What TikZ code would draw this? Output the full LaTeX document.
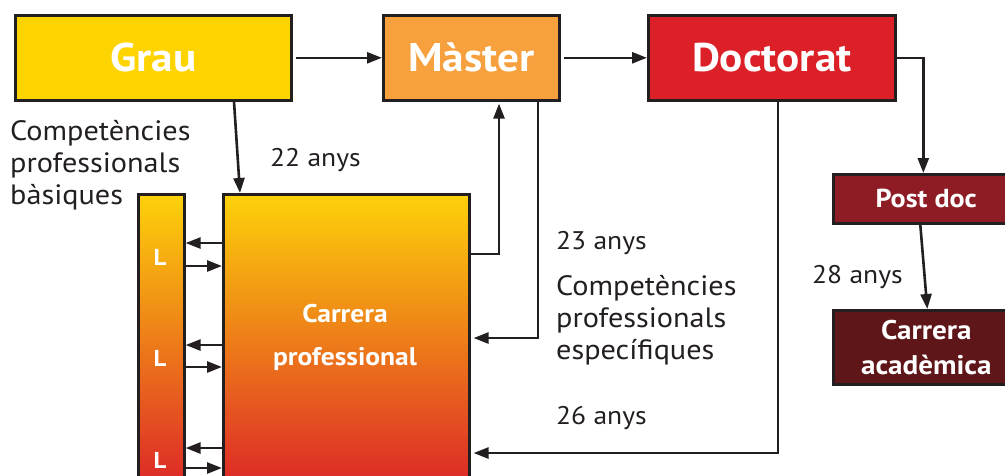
\documentclass[tikz,border=0pt]{standalone}
\usepackage{fontspec}
\setmainfont[FakeStretch=1.08]{PT Sans}
\usetikzlibrary{arrows.meta,calc}
\definecolor{dark}{HTML}{231F20}
\definecolor{cgrau}{HTML}{FDD300}
\definecolor{cmaster}{HTML}{F6A03E}
\definecolor{cdoct}{HTML}{DC2028}
\definecolor{cpost}{HTML}{8E1C24}
\definecolor{cacad}{HTML}{5E1618}
\definecolor{gtop}{HTML}{FDD20A}
\definecolor{gbot}{HTML}{DC2329}
\begin{document}
\begin{tikzpicture}[x=1pt,y=-1pt,
  box/.style={draw=dark,line width=2.6pt,inner sep=0pt,anchor=north west,text=white},
  big/.style={font=\bfseries\fontsize{40}{44}\selectfont},
  small/.style={font=\bfseries\fontsize{26}{30}\selectfont,align=center},
  grad/.style={box,top color=gtop,bottom color=gbot},
  arr/.style={draw=dark,line width=2.6pt,-{Triangle[length=15pt,width=11pt]}},
  txt/.style={text=dark,font=\fontsize{28}{32}\selectfont,align=left,inner sep=0pt,anchor=west},
  age/.style={txt,font=\fontsize{25.5}{32}\selectfont},
  lab/.style={text=white,font=\bfseries\fontsize{23}{26}\selectfont,inner sep=0pt}]
\useasboundingbox (0,0) rectangle (1005,475);
\clip (0,0) rectangle (1005,475);
% top row
\node[box,fill=cgrau,big,minimum width=276pt,minimum height=85pt] (grau) at (14,14) {Grau};
\node[box,fill=cmaster,big,minimum width=176pt,minimum height=85pt] (master) at (382,14) {Màster};
\node[box,fill=cdoct,big,minimum width=247pt,minimum height=85pt] (doct) at (647,14) {Doctorat};
% right column
\node[box,fill=cpost,small,minimum width=186pt,minimum height=49pt] (postdoc) at (832,173) {Post doc};
\node[box,fill=cacad,small,minimum width=186pt,minimum height=74pt,font=\bfseries\fontsize{27}{35}\selectfont] (acad) at (832,309) {Carrera\\acadèmica};
% career boxes
\node[grad,minimum width=46pt,minimum height=300pt] (lbar) at (137,193) {};
\node[grad,minimum width=246pt,minimum height=300pt] (car) at (222,193) {};
\node[text=white,font=\bfseries\fontsize{25.5}{43}\selectfont,align=center] (cartxt) at (345,337) {Carrera\\professional};
\node[lab] (l1) at (160,257) {L};
\node[lab] (l2) at (160,358) {L};
\node[lab] (l3) at (160,460) {L};
% texts
\node[txt] (cb) at (10,165) {Competències\\professionals\\bàsiques};
\node[age] (a22) at (270,160) {22 anys};
\node[age] (a23) at (556,243) {23 anys};
\node[txt] (ce) at (556,320) {Competències\\professionals\\específiques};
\node[age] (a26) at (556,418) {26 anys};
\node[age] (a28) at (812,277) {28 anys};
% connectors
\draw[arr,shorten <=3pt] (grau.east) -- (master.west);
\draw[arr,shorten <=3pt] (master.east) -- (doct.east -| doct.west);
\draw[arr] (doct.east) -| ([xshift=-3pt]postdoc.north);
\draw[arr] ([xshift=220pt]grau.south west) -- ([xshift=18pt]car.north west);
\draw[arr] ([yshift=-61pt]car.north east) -| ([xshift=117pt,yshift=-2pt]master.south west);
\draw[arr,shorten >=3pt] ([xshift=156pt]master.south west) |- ([yshift=-145pt]car.north east);
\draw[arr,shorten >=3pt] ([xshift=131pt]doct.south west) |- ([yshift=-260pt]car.north east);
\draw[arr] ([xshift=-6pt]postdoc.south) -- ([xshift=1pt]acad.north);
\foreach \o/\i in {50/73, 152/174, 255/275}{
  \draw[arr] ([yshift=-\o pt]car.north west) -- ([yshift=-\o pt]lbar.north east);
  \draw[arr] ([yshift=-\i pt]lbar.north east) -- ([yshift=-\i pt]car.north west);
}
\end{tikzpicture}
\end{document}
